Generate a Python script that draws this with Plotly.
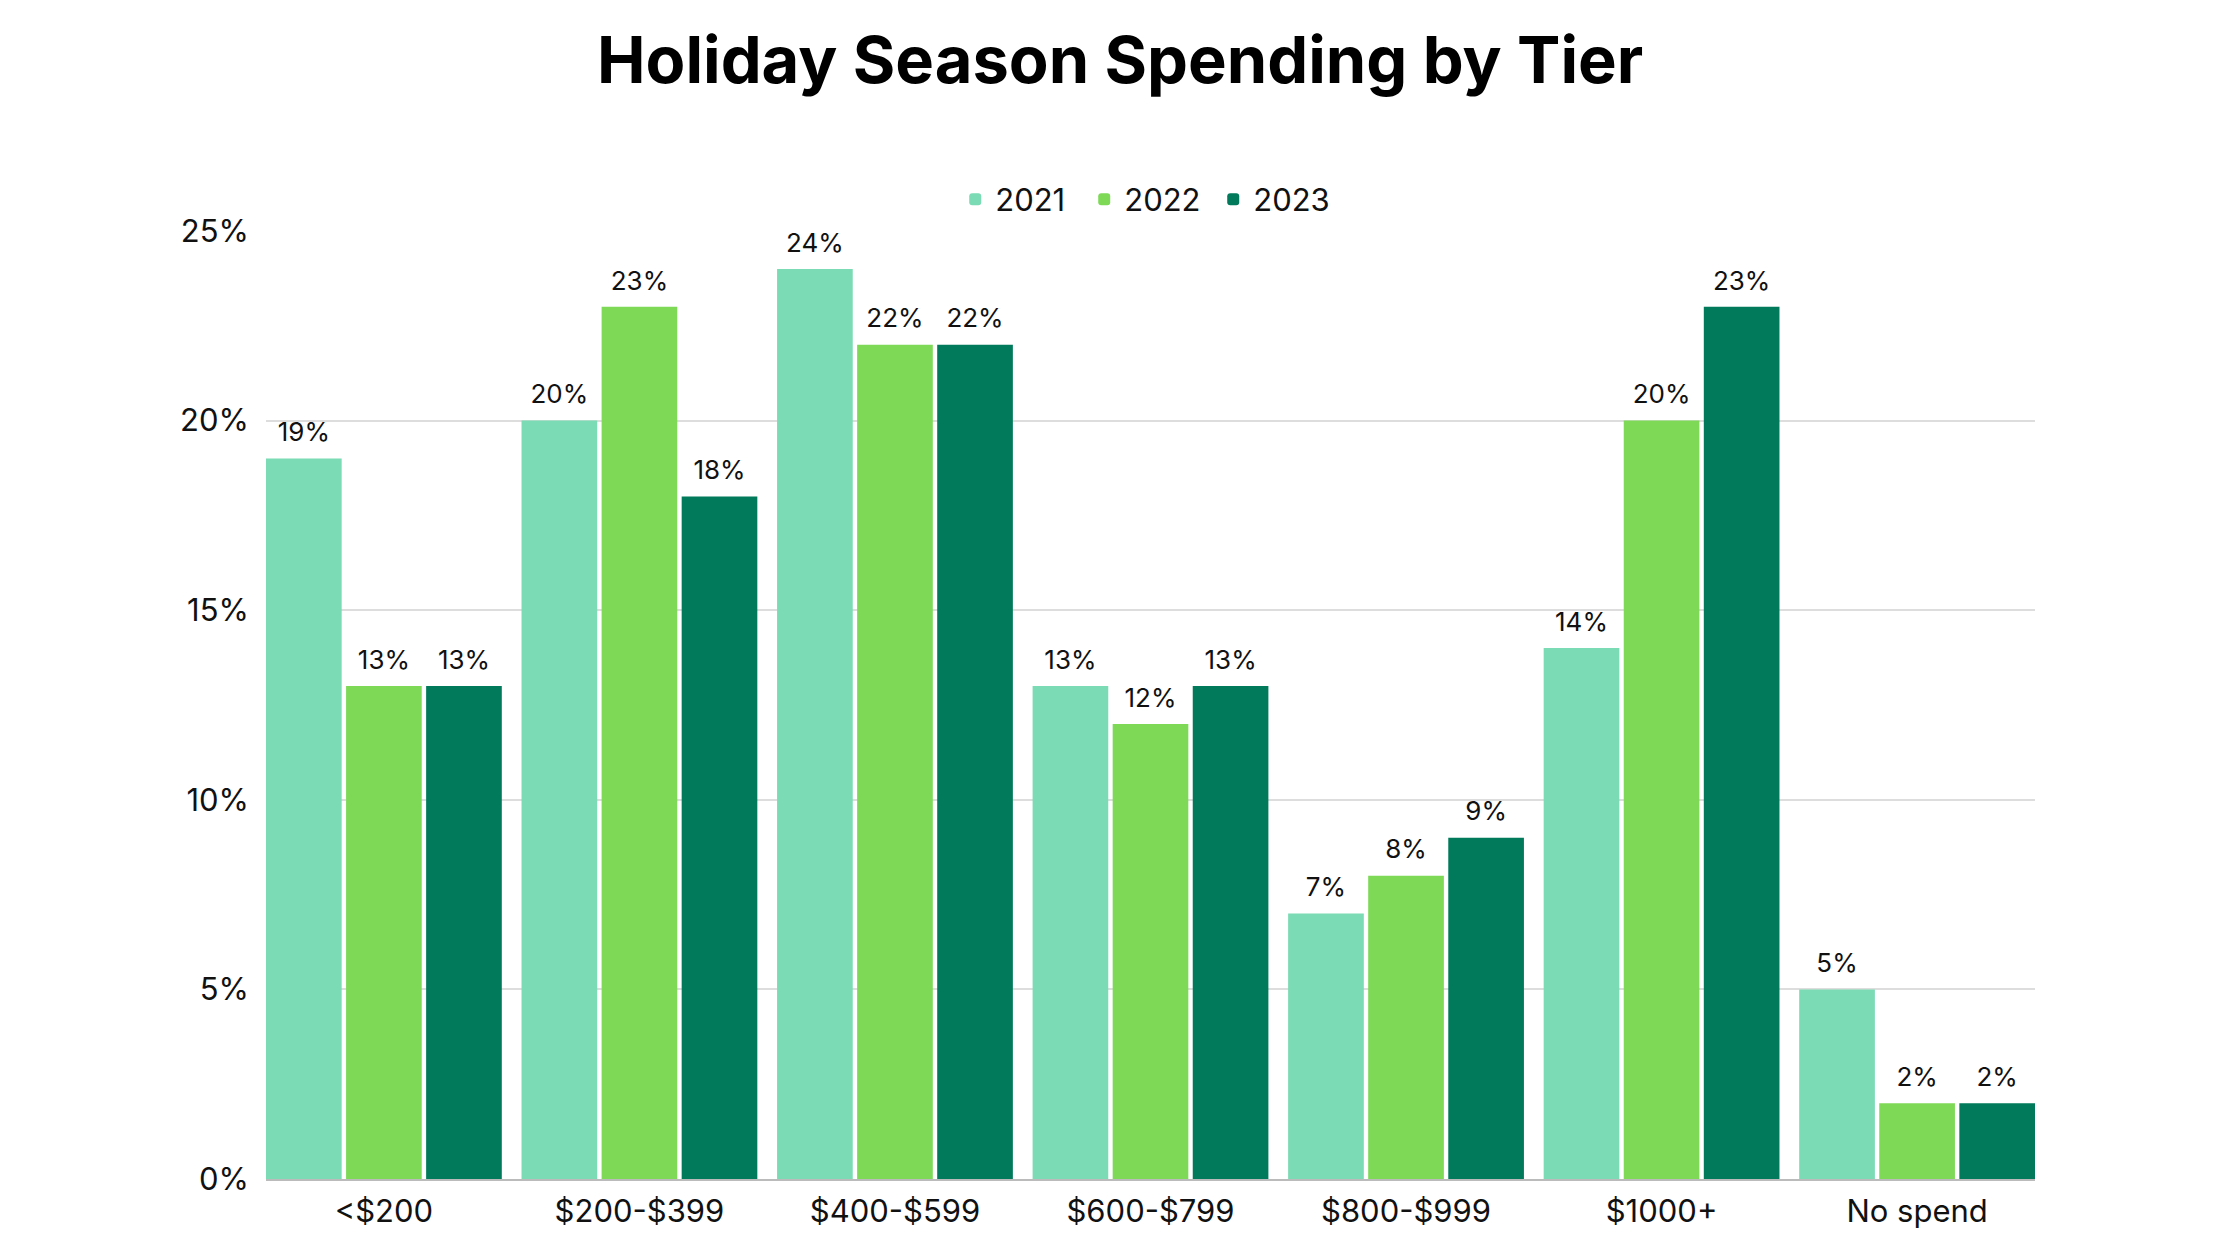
import plotly.graph_objects as go

categories = ["<$200", "$200-$399", "$400-$599", "$600-$799", "$800-$999", "$1000+", "No spend"]
years = ["2021", "2022", "2023"]
values_2021 = [19, 20, 24, 13, 7, 14, 5]
values_2022 = [13, 23, 22, 12, 8, 20, 2]
values_2023 = [13, 18, 22, 13, 9, 23, 2]
colors = ["#7ADBB4", "#7ED957", "#007A5A"]
y_ticks = [0, 5, 10, 15, 20, 25]

series = [values_2021, values_2022, values_2023]
BARGAP = 0.06
GROUPGAP = 0.055
LABEL_PAD = 0.22  # extra space (axis units) between bar top and its label

fig = go.Figure()
for name, vals, col in zip(years, series, colors):
    fig.add_trace(go.Bar(
        name=name, x=categories, y=vals, offsetgroup=name,
        marker=dict(color=col, line=dict(width=0)),
        hoverinfo="x+y+name",
    ))
for name, vals in zip(years, series):
    fig.add_trace(go.Bar(
        name=name, x=categories, y=[LABEL_PAD] * len(vals), base=vals,
        offsetgroup=name, showlegend=False, hoverinfo="skip",
        marker=dict(color="rgba(0,0,0,0)", line=dict(width=0), cornerradius=0),
        text=[f"{v}%" for v in vals], textposition="outside",
        textfont=dict(family="Inter", size=26, color="#111"),
        cliponaxis=False,
    ))

x_start = -0.5 + BARGAP / 2 + GROUPGAP * (1 - BARGAP) / 6
x_end = len(categories) - 1 - x_start

fig.update_layout(
    width=2240, height=1260,
    paper_bgcolor="white", plot_bgcolor="white",
    margin=dict(l=258, r=213, t=223, b=89),
    barmode="group", bargap=BARGAP, bargroupgap=GROUPGAP,
    barcornerradius=5,
    title=dict(text="<b>Holiday Season Spending by Tier</b>", x=0.4965, xanchor="center",
               y=0.9587, yanchor="middle",
               font=dict(family="Inter", size=65, color="#000")),
    legend=dict(orientation="h", x=0.499, xanchor="center", y=1.033, yanchor="middle",
                font=dict(family="Inter", size=31, color="#111"),
                entrywidth=84, entrywidthmode="pixels", traceorder="normal"),
    font=dict(family="Inter", color="#111"),
)
fig.update_yaxes(range=[0, 25], tickvals=y_ticks, ticktext=[f"{t}%" for t in y_ticks],
                 showgrid=True, gridcolor="#DDDDDD", gridwidth=1.5,
                 zeroline=False, showline=False,
                 tickfont=dict(family="Inter", size=31, color="#111"),
                 ticklabelstandoff=16)
fig.update_xaxes(range=[x_start, x_end],
                 showline=True, linecolor="#BBBBBB", linewidth=2,
                 ticklabelstandoff=4,
                 tickfont=dict(family="Inter", size=31, color="#111"))

fig.write_html("out.html")
